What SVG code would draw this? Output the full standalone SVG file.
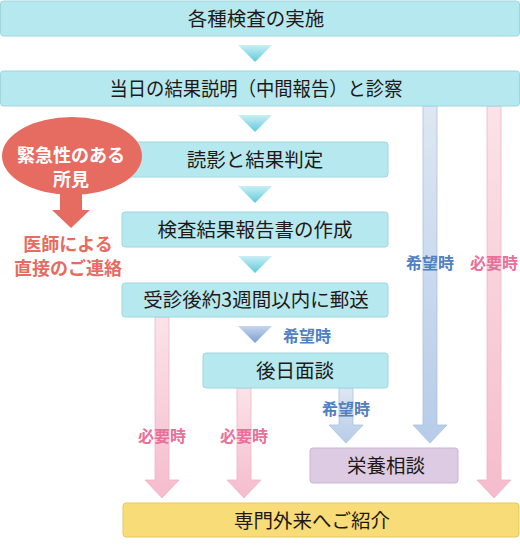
<svg xmlns="http://www.w3.org/2000/svg" width="520" height="549" viewBox="0 0 520 549">
<defs>
<linearGradient id="gTri" x1="0" y1="0" x2="0" y2="1"><stop offset="0" stop-color="#c9eff4"/><stop offset="1" stop-color="#5ecadb"/></linearGradient>
<linearGradient id="gTriB" x1="0" y1="0" x2="0" y2="1"><stop offset="0" stop-color="#c6d6ee"/><stop offset="1" stop-color="#7b9fd1"/></linearGradient>
<linearGradient id="gPink" x1="0" y1="0" x2="0" y2="1"><stop offset="0" stop-color="#fbe3e9"/><stop offset="1" stop-color="#f5bccd"/></linearGradient>
<linearGradient id="gBlue" x1="0" y1="0" x2="0" y2="1"><stop offset="0" stop-color="#dee7f3"/><stop offset="1" stop-color="#b6cce8"/></linearGradient>
<style>
.box{fill:#b5e9ef;stroke:#9fd6df;stroke-width:1}
.t{font-family:"Noto Sans CJK JP","Noto Sans",sans-serif;font-size:19.5px;fill:#231815;text-anchor:middle}
.lb{font-family:"Noto Sans CJK JP","Noto Sans",sans-serif;font-size:16px;font-weight:bold;fill:#4f80c1;text-anchor:middle}
.lp{font-family:"Noto Sans CJK JP","Noto Sans",sans-serif;font-size:16px;font-weight:bold;fill:#e8709a;text-anchor:middle}
.pa{fill:url(#gPink);stroke:#efb5c6;stroke-width:0.8}
.ba{fill:url(#gBlue);stroke:#a9c0de;stroke-width:0.8}
.r{font-family:"Noto Sans CJK JP","Noto Sans",sans-serif;font-size:18px;font-weight:bold;text-anchor:middle}
</style>
</defs>
<g id="connectors">
<polygon points="238,45 272,45 255,62" fill="url(#gTri)"/>
<polygon points="238,115 272,115 255,132" fill="url(#gTri)"/>
<polygon points="238,186 272,186 255,203" fill="url(#gTri)"/>
<polygon points="238,256 272,256 255,273" fill="url(#gTri)"/>
<polygon points="238,326 272,326 255,343" fill="url(#gTriB)"/>
<path class="ba" d="M423,106 V425 H413 L430,443 L447,425 H437 V106 Z"/>
<path class="pa" d="M487,106 V480 H477 L494,498 L511,480 H501 V106 Z"/>
<path class="pa" d="M155,317 V480 H145 L162,498 L179,480 H169 V317 Z"/>
<path class="pa" d="M237,388 V480 H227 L244,498 L261,480 H251 V388 Z"/>
<path class="ba" d="M339,388 V425 H329 L346,443 L363,425 H353 V388 Z"/>
<text class="lb" x="307" y="342">希望時</text>
<text class="lb" x="346" y="415">希望時</text>
<text class="lb" x="430" y="269">希望時</text>
<text class="lp" x="494" y="269">必要時</text>
<text class="lp" x="162" y="442">必要時</text>
<text class="lp" x="244" y="442">必要時</text>
</g>
<g id="n1"><rect class="box" x="0.5" y="1" width="519" height="35" rx="3"/><text class="t" x="256" y="26">各種検査の実施</text></g>
<g id="n2"><rect class="box" x="0.5" y="71" width="519" height="35" rx="3"/><text class="t" x="256" y="96" textLength="293" lengthAdjust="spacingAndGlyphs">当日の結果説明（中間報告）と診察</text></g>
<g id="n3"><rect class="box" x="122" y="142" width="266" height="35" rx="3"/><text class="t" x="255" y="167">読影と結果判定</text></g>
<g id="n4"><rect class="box" x="122" y="212" width="266" height="35" rx="3"/><text class="t" x="255" y="237">検査結果報告書の作成</text></g>
<g id="n5"><rect class="box" x="122" y="283" width="266" height="34" rx="3"/><text class="t" x="256" y="307">受診後約3週間以内に郵送</text></g>
<g id="n6"><rect class="box" x="203" y="353" width="185" height="35" rx="3"/><text class="t" x="295" y="378">後日面談</text></g>
<g id="n7"><rect x="310" y="448" width="148" height="35" rx="3" fill="#dccbe3" stroke="#c9b5d3"/><text class="t" x="386" y="473">栄養相談</text></g>
<g id="n8"><rect x="123" y="503" width="396" height="34" rx="3" fill="#f8dc77" stroke="#e9c95f"/><text class="t" x="312" y="528">専門外来へご紹介</text></g>
<g id="urgent">
<path d="M60,190 V210 H52 L71,228 L90,210 H82 V190 Z" fill="#e66c62"/>
<ellipse cx="72" cy="156" rx="70" ry="39" fill="#e66c62"/>
<text class="r" x="71" y="162" fill="#fff">緊急性のある</text>
<text class="r" x="71" y="186" fill="#fff">所見</text>
<text class="r" x="68" y="251" fill="#e66c62">医師による</text>
<text class="r" x="68" y="275" fill="#e66c62">直接のご連絡</text>
</g>
</svg>
